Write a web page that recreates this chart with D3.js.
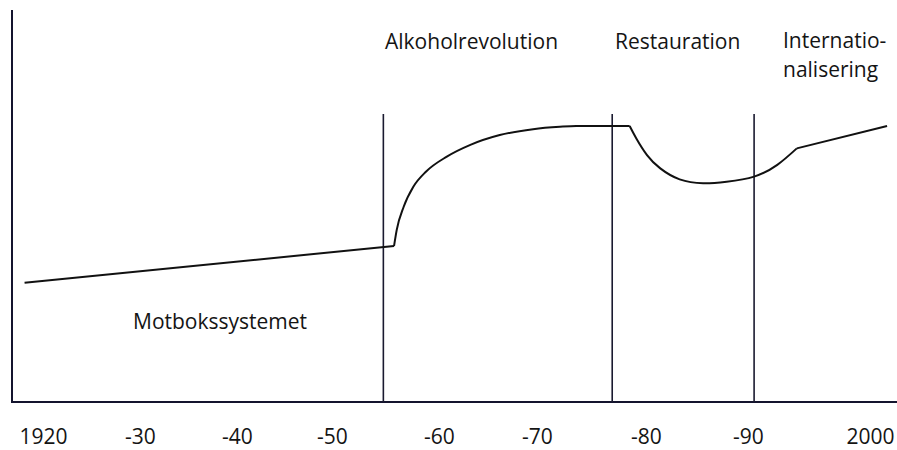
<!DOCTYPE html>
<html>
<head>
<meta charset="utf-8">
<script src="https://cdn.jsdelivr.net/npm/d3@7"></script>
<style>
  html, body { margin: 0; padding: 0; background: #fff; }
  svg { display: block; }
  text { font-family: "Open Sans", "Noto Sans", sans-serif; fill: #141414; }
</style>
</head>
<body>
<svg id="chart" width="897" height="450"></svg>
<script>
// ---- data ----
const tickYears  = [1920, 1930, 1940, 1950, 1960, 1970, 1980, 1990, 2000];
const tickLabels = ["1920", "-30", "-40", "-50", "-60", "-70", "-80", "-90", "2000"];

// index level (arbitrary units 0-100)
const motbokYears   = [1918.1, 1955.8];
const motbokValues  = [30.4, 39.8];

const revolutionYears  = [1955.8, 1956.05, 1956.7, 1957.6, 1958.8, 1960.8, 1963.2, 1966.2, 1969.6, 1972.1, 1973.6, 1978.5];
const revolutionValues = [39.8, 43.9, 49.8, 54.9, 58.8, 62.6, 65.6, 68.1, 69.6, 70.2, 70.4, 70.4];

const restaurationYears  = [1978.5, 1979.1, 1980.1, 1981.4, 1983.3, 1985.6, 1987.9, 1990.5, 1992.4, 1994.0];
const restaurationValues = [70.4, 67.3, 63.0, 59.6, 56.8, 55.8, 56.2, 57.5, 60.5, 64.7];

const internationalYears  = [1994.0, 2001.4];
const internationalValues = [64.7, 70.4];

const dividerYears = [1954.8, 1976.9, 1990.5];
const dividerTop = 73.5;

const periodLabels = ["Alkoholrevolution", "Restauration", "Internatio-|nalisering", "Motbokssystemet"];

// ---- layout ----
const svg = d3.select("#chart");
const W = 897, H = 450;
const axisX = 12, axisY = 402, axisTop = 10;

// piecewise-linear x scale matching the irregular printed tick placement
const x = d3.scaleLinear()
  .domain(tickYears)
  .range([43, 140, 237, 332, 439, 537, 646, 748, 870]);
const y = d3.scaleLinear().domain([0, 100]).range([axisY, axisTop]);

const axisColor = "#14142e";

// y axis line
svg.append("line")
  .attr("x1", axisX).attr("x2", axisX)
  .attr("y1", y(100)).attr("y2", axisY + 1)
  .attr("stroke", axisColor).attr("stroke-width", 2);

// x axis line
svg.append("line")
  .attr("x1", axisX - 1).attr("x2", W)
  .attr("y1", axisY).attr("y2", axisY)
  .attr("stroke", axisColor).attr("stroke-width", 2.2);

// x axis labels
const xAxis = d3.axisBottom(x)
  .tickValues(tickYears)
  .tickFormat((d, i) => tickLabels[i])
  .tickSize(0);
const gx = svg.append("g").attr("transform", `translate(0,${axisY})`).call(xAxis);
gx.select(".domain").remove();
gx.selectAll("text")
  .attr("y", 42).attr("dy", 0)
  .style("font-family", '"Open Sans", "Noto Sans", sans-serif')
  .style("font-size", "21px")
  .attr("fill", "#141414");

// divider lines
svg.selectAll("line.divider")
  .data(dividerYears)
  .join("line")
  .attr("class", "divider")
  .attr("x1", d => x(d)).attr("x2", d => x(d))
  .attr("y1", y(dividerTop)).attr("y2", axisY)
  .attr("stroke", "#1a1a30").attr("stroke-width", 1.6);

// curve segments
const segments = [
  { years: motbokYears, values: motbokValues, curve: d3.curveLinear },
  { years: revolutionYears, values: revolutionValues, curve: d3.curveMonotoneX },
  { years: restaurationYears, values: restaurationValues, curve: d3.curveNatural },
  { years: internationalYears, values: internationalValues, curve: d3.curveLinear }
];
segments.forEach(s => {
  const pts = s.years.map((yr, i) => [yr, s.values[i]]);
  const line = d3.line().x(d => x(d[0])).y(d => y(d[1])).curve(s.curve);
  svg.append("path")
    .attr("d", line(pts))
    .attr("fill", "none")
    .attr("stroke", "#111")
    .attr("stroke-width", 2)
    .attr("stroke-linejoin", "round");
});

// period labels
const labelFont = "21px";
function addLabel(lines, lx, ly, lh) {
  lines.forEach((ln, i) => {
    svg.append("text")
      .attr("x", lx).attr("y", ly + i * lh)
      .style("font-size", labelFont)
      .text(ln);
  });
}
addLabel([periodLabels[0]], 385, 49, 29);
addLabel([periodLabels[1]], 615, 49, 29);
addLabel(periodLabels[2].split("|"), 783, 48, 29);
addLabel([periodLabels[3]], 133, 329, 29);
</script>
</body>
</html>
